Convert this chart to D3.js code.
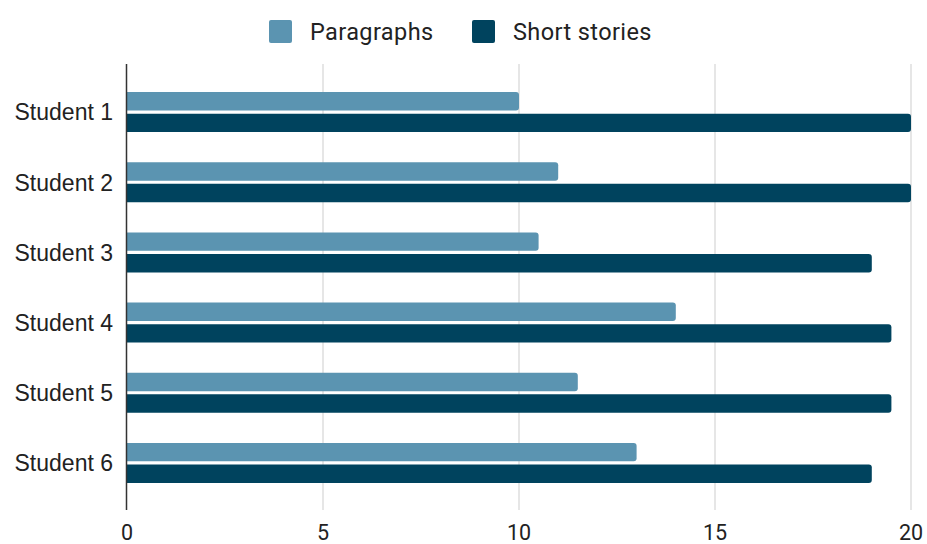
<!DOCTYPE html>
<html>
<head>
<meta charset="utf-8">
<script src="https://cdn.jsdelivr.net/npm/d3@7"></script>
<style>
  body { margin: 0; background: #fff; }
  svg { display: block; }
  .tick-lbl { font-family: Roboto, Arial, sans-serif; font-size: 21.5px; fill: #222; }
  .cat-lbl { font-family: "Liberation Sans", Arial, sans-serif; font-size: 23px; fill: #222; }
  .leg-lbl { font-family: Roboto, Arial, sans-serif; font-size: 23.5px; letter-spacing: 0.4px; fill: #222; }
</style>
</head>
<body>
<svg id="chart" width="927" height="544"></svg>
<script>
const students = ["Student 1", "Student 2", "Student 3", "Student 4", "Student 5", "Student 6"];
const seriesNames = ["Paragraphs", "Short stories"];
const paragraphs = [10, 11, 10.5, 14, 11.5, 13];
const shortStories = [20, 20, 19, 19.5, 19.5, 19];
const xTicks = [0, 5, 10, 15, 20];
const colors = ["#5b94b1", "#00435e"];

const svg = d3.select("#chart");

let x = d3.scaleLinear().domain([0, 20]).range([127, 911]);
let y = d3.scaleBand().domain(students).range([77, 498]).paddingInner(0.43).paddingOuter(0.215);
let ySub = d3.scaleBand().domain(seriesNames).range([0, y.bandwidth()]).paddingInner(0.15);

const rows = students.map((s, i) => ({ name: s, values: [paragraphs[i], shortStories[i]] }));

// grid
svg.append("g").selectAll("line")
  .data(xTicks.filter(d => d > 0))
  .join("line")
  .attr("x1", d => x(d)).attr("x2", d => x(d))
  .attr("y1", 64).attr("y2", 510)
  .attr("stroke", "#d9d9d9").attr("stroke-width", 1.3);

// tick labels
svg.append("g").selectAll("text")
  .data(xTicks)
  .join("text")
  .attr("class", "tick-lbl")
  .attr("x", d => x(d))
  .attr("y", 540)
  .attr("text-anchor", "middle")
  .text(d => d);

// bars (rounded at the right end)
function barPath(x0, x1, y0, h, r){
  r = Math.min(r, (x1 - x0) / 2, h / 2);
  return `M${x0},${y0}H${x1 - r}Q${x1},${y0} ${x1},${y0 + r}V${y0 + h - r}Q${x1},${y0 + h} ${x1 - r},${y0 + h}H${x0}Z`;
}

const grp = svg.append("g").selectAll("g")
  .data(rows)
  .join("g")
  .attr("transform", d => `translate(0,${y(d.name)})`);

grp.selectAll("path")
  .data(d => d.values.map((v, k) => ({ v, k })))
  .join("path")
  .attr("d", d => barPath(x(0), x(d.v), ySub(seriesNames[d.k]), ySub.bandwidth(), 3))
  .attr("fill", d => colors[d.k]);

// category labels
svg.append("g").selectAll("text")
  .data(students)
  .join("text")
  .attr("class", "cat-lbl")
  .attr("x", 113)
  .attr("y", d => y(d) + y.bandwidth() / 2)
  .attr("dy", "0.36em")
  .attr("text-anchor", "end")
  .text(d => d);

// axis line
svg.append("line")
  .attr("x1", 126.5).attr("x2", 126.5)
  .attr("y1", 64).attr("y2", 510)
  .attr("stroke", "#333").attr("stroke-width", 1.5);

// legend
const legendX = [269, 472];
const leg = svg.append("g").selectAll("g")
  .data(seriesNames)
  .join("g")
  .attr("transform", (d, i) => `translate(${legendX[i]},20)`);
leg.append("rect")
  .attr("width", 23).attr("height", 23).attr("rx", 2)
  .attr("fill", (d, i) => colors[i]);
leg.append("text")
  .attr("class", "leg-lbl")
  .attr("x", 41).attr("y", 11.5).attr("dy", "0.36em")
  .text(d => d);
</script>
</body>
</html>
